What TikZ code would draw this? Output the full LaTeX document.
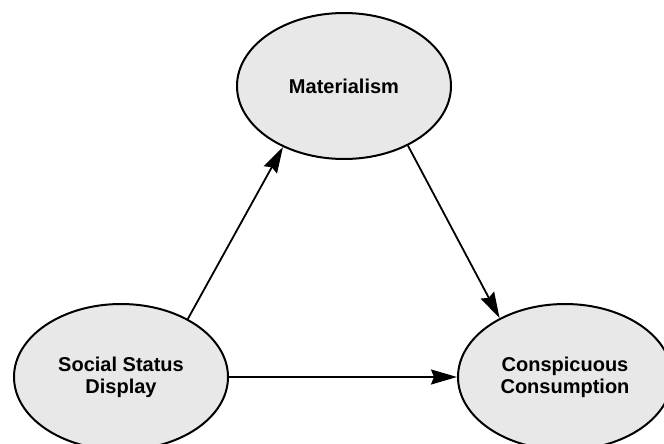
\documentclass[tikz,border=0pt]{standalone}
\usepackage{fontspec}
\setmainfont{Liberation Sans}
\usetikzlibrary{shapes.geometric,arrows.meta}
\definecolor{bubble}{HTML}{E8E8E8}
\tikzset{
  construct/.style={draw, ellipse, line width=2pt, fill=bubble,
    minimum width=214pt, minimum height=146pt, inner sep=0pt,
    align=center, font=\fontsize{20}{22}\selectfont\bfseries},
  path/.style={line width=1.8pt, -{Stealth[length=26pt,width=15pt,inset=3pt]}}
}
\begin{document}
\begin{tikzpicture}[x=1pt,y=-1pt]
\useasboundingbox (0,0) rectangle (664,444);
\node[construct] (mat) at (344,86) {Materialism};
\node[construct] (ssd) at (121,377) {Social Status\\Display};
\node[construct] (cc) at (565,377) {Conspicuous\\Consumption};
\draw[path] (ssd.41) -- (mat.225);
\draw[path] (mat.317) -- (cc.138);
\draw[path] (ssd.east) -- (cc.west);
\end{tikzpicture}
\end{document}
